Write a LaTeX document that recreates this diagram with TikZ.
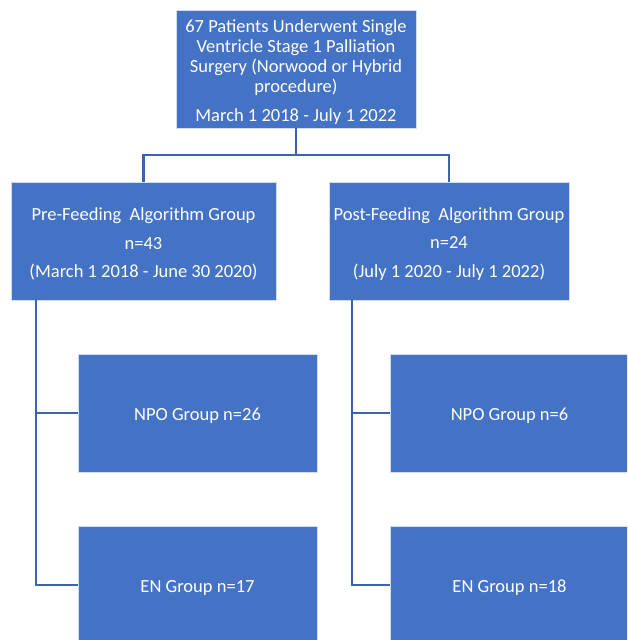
\documentclass[tikz,border=0pt]{standalone}
\usepackage{fontspec}
\setmainfont{Carlito}
\usetikzlibrary{calc}
\definecolor{boxblue}{HTML}{4472C4}
\definecolor{lineblue}{HTML}{3A64B0}
\begin{document}
\begin{tikzpicture}[x=1pt,y=1pt,
  box/.style={rectangle, fill=boxblue, draw=white!75!boxblue, line width=0.6pt,
    inner sep=0pt},
  boxtext/.style={text=white, inner sep=0pt, align=center, yshift=-3pt,
    font=\fontsize{18.5}{20}\selectfont},
  conn/.style={draw=lineblue, line width=2.3pt}]
\useasboundingbox (0,0) rectangle (627,-640);
\begin{scope}
\clip (0,0) rectangle (627,-640);
\node[box, minimum width=240, minimum height=118] (top) at (296,-69) {};
\node[boxtext] (toptext) at (top.center)
  {67 Patients Underwent Single\\Ventricle Stage 1 Palliation\\Surgery (Norwood or Hybrid\\procedure)\\[9pt]March 1 2018 - July 1 2022};
\node[box, minimum width=265, minimum height=118] (pre) at (143.5,-241) {};
\node[boxtext] (pretext) at (pre.center)
  {Pre-Feeding\ \ Algorithm Group\\[8.5pt]n=43\\[8.5pt](March 1 2018 - June 30 2020)};
\node[box, minimum width=240, minimum height=118] (post) at (449,-241) {};
\node[boxtext] (posttext) at (post.center)
  {Post-Feeding\ \ Algorithm Group\\[8.5pt]n=24\\[8.5pt](July 1 2020 - July 1 2022)};
\node[box, minimum width=239, minimum height=118] (npoa) at (197.5,-413) {};
\node[boxtext] (npoatext) at (npoa.center) {NPO Group n=26};
\node[box, minimum width=239, minimum height=118] (ena) at (197.5,-585) {};
\node[boxtext] (enatext) at (ena.center) {EN Group n=17};
\node[box, minimum width=239, minimum height=118] (npob) at (509.5,-413) {};
\node[boxtext] (npobtext) at (npob.center) {NPO Group n=6};
\node[box, minimum width=239, minimum height=118] (enb) at (509.5,-585) {};
\node[boxtext] (enbtext) at (enb.center) {EN Group n=18};
\end{scope}
\draw[conn] (top.south) -- +(0,-27) -| (pre.north);
\draw[conn] (top.south) -- +(0,-27) -| (post.north);
\draw[conn] ([xshift=25]pre.south west) |- (npoa.west);
\draw[conn] ([xshift=25]pre.south west) |- (ena.west);
\draw[conn] ([xshift=23]post.south west) |- (npob.west);
\draw[conn] ([xshift=23]post.south west) |- (enb.west);
\end{tikzpicture}
\end{document}
